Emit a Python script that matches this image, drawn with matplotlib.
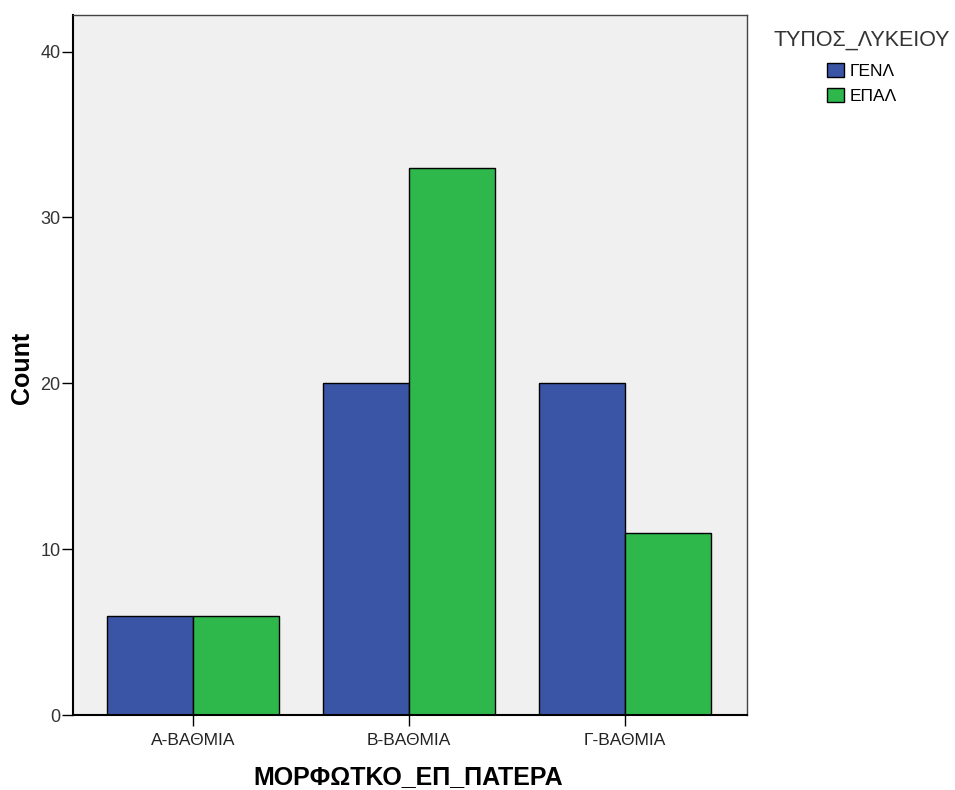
import matplotlib
matplotlib.use("Agg")
import matplotlib.pyplot as plt
import numpy as np
from matplotlib.patches import Patch

plt.rcParams['font.family'] = ['Liberation Sans', 'DejaVu Sans']

# Data
categories = ["Α-ΒΑΘΜΙΑ", "Β-ΒΑΘΜΙΑ", "Γ-ΒΑΘΜΙΑ"]
series_names = ["ΓΕΝΛ", "ΕΠΑΛ"]
genl_counts = [6, 20, 20]
epal_counts = [6, 33, 11]

blue = "#3a55a6"
green = "#2eb84b"

fig = plt.figure(figsize=(9.55, 7.9), dpi=100)
ax = fig.add_axes([0.0764, 0.0949, 0.7058, 0.886])
ax.set_facecolor("#f0f0f0")

x = np.arange(len(categories))
w = 0.398
ax.bar(x - w / 2, genl_counts, w, color=blue, edgecolor="black", linewidth=1.0)
ax.bar(x + w / 2, epal_counts, w, color=green, edgecolor="black", linewidth=1.0)

ax.set_xlim(-0.556, 2.565)
ax.set_ylim(0, 42.2)
ax.set_xticks(x)
ax.set_xticklabels(categories)
ax.set_yticks([0, 10, 20, 30, 40])
ax.tick_params(axis="x", length=8, width=1, pad=5, labelsize=12.5, labelcolor="#222222")
ax.tick_params(axis="y", length=8, width=1, pad=1, labelsize=13, labelcolor="#333333")

for sp in ax.spines.values():
    sp.set_linewidth(1.0)
    sp.set_color("#444444")
ax.spines["left"].set_color("black")
ax.spines["bottom"].set_color("black")
ax.spines["left"].set_linewidth(1.5)
ax.spines["bottom"].set_linewidth(1.5)

# axis titles
fig.text(408 / 955, 1 - 777 / 790, "ΜΟΡΦΩΤΚΟ_ΕΠ_ΠΑΤΕΡΑ", fontsize=18, fontweight="bold",
         ha="center", va="center")
fig.text(22 / 955, 1 - 368 / 790, "Count", fontsize=18, fontweight="bold",
         rotation=90, ha="center", va="center")

# legend
fig.text(773 / 955, 1 - 40 / 790, "ΤΥΠΟΣ_ΛΥΚΕΙΟΥ", fontsize=15.5, color="#333333",
         ha="left", va="center")
handles = [Patch(facecolor=blue, edgecolor="black"), Patch(facecolor=green, edgecolor="black")]
fig.legend(handles, series_names, loc="upper left",
           bbox_to_anchor=(827 / 955, 1 - 63 / 790), frameon=False, fontsize=12.5,
           handlelength=0.98, handleheight=0.86, handletextpad=0.35,
           labelspacing=0.5, borderpad=0, borderaxespad=0)

fig.savefig("out.png", dpi=100)
